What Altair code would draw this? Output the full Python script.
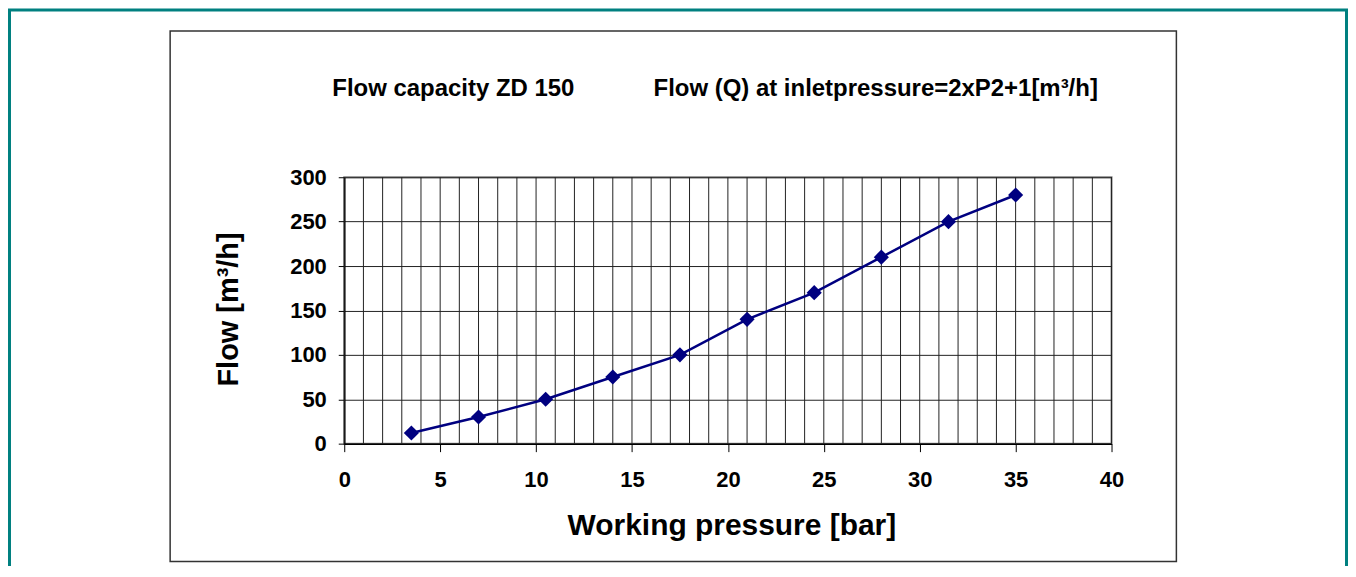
import altair as alt
import pandas as pd

# data
pressure = [3.5, 7, 10.5, 14, 17.5, 21, 24.5, 28, 31.5, 35]
flow = [12, 30, 50, 75, 100, 140, 170, 210, 250, 280]
x_ticks = [0, 5, 10, 15, 20, 25, 30, 35, 40]
y_ticks = [0, 50, 100, 150, 200, 250, 300]
x_grid = list(range(0, 41))
title_left = "Flow capacity ZD 150"
title_right = "Flow (Q) at inletpressure=2xP2+1[m³/h]"
x_title = "Working pressure [bar]"
y_title = "Flow [m³/h]"

FONT = "Liberation Sans"
W, H = 769, 267
PAD = {"left": 337, "top": 169, "right": 237, "bottom": 122}

df = pd.DataFrame({"p": pressure, "q": flow})
grid_df = pd.DataFrame({"p": x_grid})
one = pd.DataFrame({"k": [0]})

xscale = alt.Scale(domain=[0, 40], nice=False, zero=False)
yscale = alt.Scale(domain=[0, 300], nice=False)

x_axis = alt.Axis(
    values=x_ticks, title=x_title, grid=False,
    tickSize=8, tickColor="black", tickWidth=1,
    domainColor="black", domainWidth=1.5,
    labelFont=FONT, labelFontSize=22, labelFontWeight="bold", labelColor="black",
    labelPadding=18, labelFlush=False,
    titleFont=FONT, titleFontSize=30, titleFontWeight="bold", titleColor="black",
    titleX=388, titleY=82, titleBaseline="middle", titleAlign="center",
)
y_axis = alt.Axis(
    values=y_ticks, title=y_title, grid=True, gridColor="#222", gridWidth=1,
    tickSize=6, tickColor="black", tickWidth=1,
    domainColor="black", domainWidth=1.5,
    labelFont=FONT, labelFontSize=22, labelFontWeight="bold", labelColor="black",
    labelPadding=12, labelFlush=False,
    titleFont=FONT, titleFontSize=29, titleFontWeight="bold", titleColor="black",
    titleX=-116, titleY=132, titleBaseline="middle", titleAlign="center", titleAngle=270,
)

teal_border = alt.Chart(one).mark_rect(
    fillOpacity=0, stroke="#008080", strokeWidth=3
).encode(
    x=alt.value(9.5 - 345), x2=alt.value(1349.5 - 345),
    y=alt.value(9.5 - 177), y2=alt.value(620 - 177),
)
inner_box = alt.Chart(one).mark_rect(
    fillOpacity=0, stroke="#333333", strokeWidth=1.5
).encode(
    x=alt.value(170.5 - 345), x2=alt.value(1179 - 345),
    y=alt.value(30.5 - 177), y2=alt.value(562 - 177),
)
t1 = alt.Chart(one).mark_text(
    font=FONT, fontSize=24, fontWeight="bold", color="black",
    align="left", baseline="middle"
).encode(x=alt.value(333 - 345), y=alt.value(89 - 177), text=alt.value(title_left))
t2 = alt.Chart(one).mark_text(
    font=FONT, fontSize=24, fontWeight="bold", color="black",
    align="left", baseline="middle"
).encode(x=alt.value(655 - 345), y=alt.value(89 - 177), text=alt.value(title_right))

grid = alt.Chart(grid_df).mark_rule(color="#222", strokeWidth=1).encode(
    x=alt.X("p:Q", scale=xscale, axis=x_axis)
)
line = alt.Chart(df).mark_line(color="#000080", strokeWidth=2.5).encode(
    x=alt.X("p:Q", scale=xscale, axis=x_axis),
    y=alt.Y("q:Q", scale=yscale, axis=y_axis),
)
points = alt.Chart(df).mark_point(
    shape="diamond", filled=True, color="#000080", size=230, opacity=1
).encode(
    x=alt.X("p:Q", scale=xscale, axis=x_axis),
    y=alt.Y("q:Q", scale=yscale, axis=y_axis),
)

chart = alt.layer(teal_border, inner_box, t1, t2, grid, line, points).properties(
    width=W, height=H,
    autosize=alt.AutoSizeParams(type="none"),
    padding=PAD,
    background="white",
).configure_view(stroke="#808080", strokeWidth=2)

chart.save("out.html", embed_options={"renderer": "svg", "actions": False})
